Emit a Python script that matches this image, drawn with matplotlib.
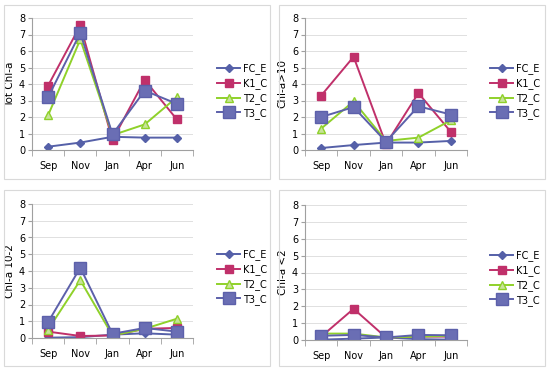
import matplotlib
matplotlib.use('Agg')
import matplotlib.pyplot as plt
from matplotlib.patches import Rectangle

months = ['Sep', 'Nov', 'Jan', 'Apr', 'Jun']
series_names = ['FC_E', 'K1_C', 'T2_C', 'T3_C']

tot_chl = {
    'FC_E': [0.2, 0.45, 0.8, 0.75, 0.75],
    'K1_C': [3.9, 7.55, 0.6, 4.25, 1.85],
    'T2_C': [2.1, 6.7, 0.9, 1.55, 3.2],
    'T3_C': [3.2, 7.1, 0.95, 3.6, 2.8],
}
chl_gt10 = {
    'FC_E': [0.12, 0.3, 0.45, 0.45, 0.55],
    'K1_C': [3.3, 5.65, 0.35, 3.45, 1.1],
    'T2_C': [1.3, 2.95, 0.55, 0.75, 1.8],
    'T3_C': [2.0, 2.6, 0.5, 2.65, 2.15],
}
chl_10_2 = {
    'FC_E': [0.02, 0.05, 0.2, 0.28, 0.2],
    'K1_C': [0.38, 0.12, 0.15, 0.55, 0.6],
    'T2_C': [0.5, 3.45, 0.15, 0.55, 1.15],
    'T3_C': [0.95, 4.2, 0.25, 0.6, 0.38],
}
chl_lt2 = {
    'FC_E': [0.02, 0.08, 0.15, 0.05, 0.02],
    'K1_C': [0.2, 1.85, 0.15, 0.2, 0.2],
    'T2_C': [0.38, 0.38, 0.15, 0.2, 0.25],
    'T3_C': [0.25, 0.3, 0.15, 0.3, 0.28],
}

styles = {
    'FC_E': dict(color='#5560a8', marker='D', markersize=4, mfc='#5560a8', mec='#5560a8'),
    'K1_C': dict(color='#c0306a', marker='s', markersize=5.5, mfc='#c0306a', mec='#c0306a'),
    'T2_C': dict(color='#8fd12a', marker='^', markersize=5.5, mfc='#c8e39a', mec='#8fd12a'),
    'T3_C': dict(color='#5c60aa', marker='s', markersize=8.5, mfc='#6a6eb4', mec='#5c60aa'),
}

W, H = 550, 373
fig = plt.figure(figsize=(W / 100, H / 100), dpi=100)

# (data, ylabel, plot-area px: left, right, y0, y8, border px: x0, x1, y0, y1)
panels = [
    (tot_chl, 'Tot Chl-a', (32, 193, 150, 18), (4, 270, 5, 179)),
    (chl_gt10, 'Chl-a>10', (305, 467, 150, 18), (279, 545, 5, 179)),
    (chl_10_2, 'Chl-a 10-2', (32, 193, 338, 204), (4, 270, 190, 366)),
    (chl_lt2, 'Chl-a <2', (305, 467, 340, 205), (279, 545, 190, 366)),
]

for data, ylabel, (l, r, yb, yt), (bx0, bx1, by0, by1) in panels:
    fig.patches.append(Rectangle((bx0 / W, 1 - by1 / H), (bx1 - bx0) / W, (by1 - by0) / H,
                                 transform=fig.transFigure, fill=False,
                                 edgecolor='#d9d9d9', linewidth=0.8))
    ax = fig.add_axes([l / W, 1 - yb / H, (r - l) / W, (yb - yt) / H])
    x = range(len(months))
    for name in series_names:
        ax.plot(x, data[name], linewidth=1.4, label=name, **styles[name])
    ax.set_xlim(-0.5, 4.5)
    ax.set_ylim(0, 8)
    ax.set_yticks(range(9))
    ax.set_xticks(list(x))
    ax.set_xticklabels(months)
    ax.set_xticks([i - 0.5 for i in range(6)], minor=True)
    ax.tick_params(axis='x', which='major', length=0, pad=8, labelsize=7)
    ax.tick_params(axis='x', which='minor', length=4, color='#a0a0a0', direction='out')
    ax.tick_params(axis='y', length=3, color='#a0a0a0', labelsize=7, pad=2)
    ax.grid(axis='y', color='#e0e0e0', linewidth=0.7)
    ax.set_axisbelow(True)
    for s in ['top', 'right']:
        ax.spines[s].set_visible(False)
    for s in ['left', 'bottom']:
        ax.spines[s].set_color('#a0a0a0')
        ax.spines[s].set_linewidth(0.8)
    ax.set_ylabel(ylabel, fontsize=7.5, labelpad=3)
    ax.legend(loc='center left', bbox_to_anchor=((l + 180) / W, 1 - (yt + 73) / H),
              bbox_transform=fig.transFigure, frameon=False, fontsize=7,
              handlelength=2.4, handletextpad=0.3, labelspacing=0.4, borderpad=0)

fig.savefig('out.png', dpi=100)
